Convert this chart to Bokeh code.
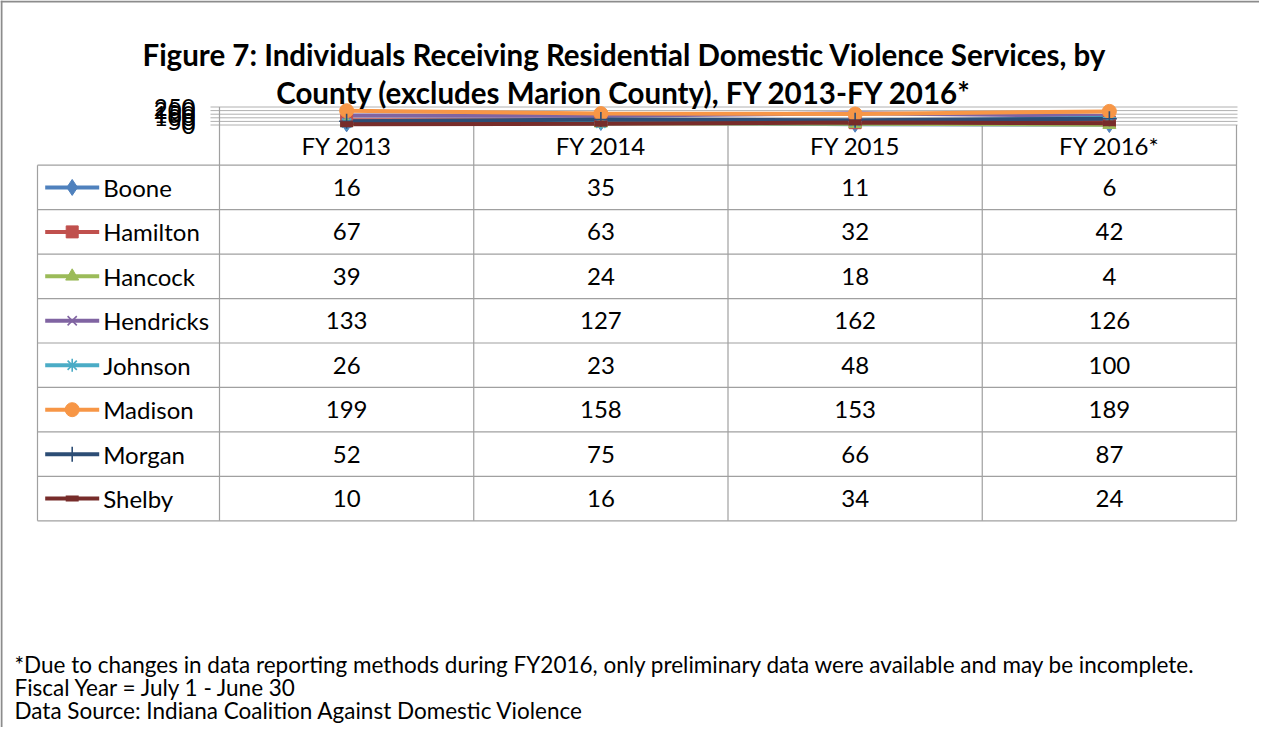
from bokeh.plotting import figure
from bokeh.models import Range1d
from bokeh.embed import file_html
from bokeh.resources import INLINE
from bokeh.core.properties import value

# ---------------- data ----------------
categories = ["FY 2013", "FY 2014", "FY 2015", "FY 2016*"]
counties = ["Boone", "Hamilton", "Hancock", "Hendricks", "Johnson", "Madison", "Morgan", "Shelby"]
boone = [16, 35, 11, 6]
hamilton = [67, 63, 32, 42]
hancock = [39, 24, 18, 4]
hendricks = [133, 127, 162, 126]
johnson = [26, 23, 48, 100]
madison = [199, 158, 153, 189]
morgan = [52, 75, 66, 87]
shelby = [10, 16, 34, 24]
y_ticks = [0, 50, 100, 150, 200, 250]
title_lines = [
    "Figure 7: Individuals Receiving Residential Domestic Violence Services, by",
    "County (excludes Marion County), FY 2013-FY 2016*",
]
notes = [
    "*Due to changes in data reporting methods during FY2016, only preliminary data were available and may be incomplete.",
    "Fiscal Year = July 1 - June 30",
    "Data Source: Indiana Coalition Against Domestic Violence",
]

series = [boone, hamilton, hancock, hendricks, johnson, madison, morgan, shelby]

# ---------------- style ----------------
colors = ["#4F81BD", "#C0504D", "#9BBB59", "#8064A2", "#4BACC6", "#F79646", "#2C4D75", "#772C2A"]
markers = ["diamond", "square", "triangle", "x", "asterisk", "circle", "cross", "dash"]
msizes = [16, 12, 13, 13, 13, 14, 15, 13]
mfill = [True, True, True, False, False, True, False, False]
FONT = "Lato"

# ---------------- layout (page pixel coordinates) ----------------
W, H, OFF = 1259, 727, 8
COL_L, COL_W = 227.0, 254.25
TABLE_L = 45.0
TABLE_R = COL_L + 4 * COL_W
PLOT_TOP, PLOT_BOT = 114.5, 132.5
ROW0, ROW_H = 172.7, 44.45
VMAX = 250.0


def cx(px):
    return (px - (COL_L + COL_W / 2)) / COL_W


def vy(px):
    return (PLOT_BOT - px) * VMAX / (PLOT_BOT - PLOT_TOP)


def ry(px):
    return (px - (ROW0 + ROW_H / 2)) / ROW_H


p = figure(width=W, height=H,
           x_range=Range1d(OFF, OFF + W), y_range=Range1d(OFF + H, OFF),
           x_axis_type=None, y_axis_type=None,
           toolbar_location=None, output_backend="svg",
           min_border=0, outline_line_color=None,
           background_fill_color="white", border_fill_color="white")
p.extra_x_ranges = {"cat": Range1d(cx(OFF), cx(OFF + W))}
p.extra_y_ranges = {"vals": Range1d(vy(OFF + H), vy(OFF)),
                    "rows": Range1d(ry(OFF + H), ry(OFF))}

# chart border (left and top visible)
p.segment(x0=[9, 8], y0=[8, 9], x1=[9, OFF + W], y1=[OFF + H, 9],
          line_color="#8c8c8c", line_width=2)

# horizontal gridlines / tick marks
p.segment(x0=[218] * len(y_ticks), x1=[TABLE_R + 1] * len(y_ticks),
          y0=y_ticks, y1=y_ticks, y_range_name="vals",
          line_color="#b0b0b0", line_width=1)

# y tick labels
p.text(x=[203] * len(y_ticks), y=y_ticks, text=[str(t) for t in y_ticks],
       y_range_name="vals", text_font=value(FONT), text_font_size="24px",
       text_align="right", text_baseline="middle", text_color="black")

# data table lines
n = len(counties)
table_bottom = ROW0 + n * ROW_H
hy = [ROW0 + j * ROW_H for j in range(n + 1)]
p.segment(x0=[TABLE_L] * len(hy), x1=[TABLE_R] * len(hy), y0=hy, y1=hy,
          line_color="#a0a0a0", line_width=1.2)
vx = [COL_L + j * COL_W for j in range(1, 5)]
p.segment(x0=vx, x1=vx, y0=[PLOT_BOT] * len(vx), y1=[table_bottom] * len(vx),
          line_color="#a0a0a0", line_width=1.2)
p.segment(x0=[COL_L, TABLE_L], x1=[COL_L, TABLE_L], y0=[PLOT_TOP, ROW0],
          y1=[table_bottom, table_bottom], line_color="#a0a0a0", line_width=1.2)

# series lines and markers
xs = list(range(len(categories)))
for vals, c in zip(series, colors):
    p.line(x=xs, y=vals, x_range_name="cat", y_range_name="vals",
           line_color=c, line_width=4)
for vals, c, m, s, f in zip(series, colors, markers, msizes, mfill):
    p.scatter(x=xs, y=vals, x_range_name="cat", y_range_name="vals",
              marker=m, size=s, line_color=c, fill_color=c if f else None,
              line_width=6 if m == "dash" else (1 if f else 1.6))

# header labels (category axis)
p.text(x=xs, y=[ry((PLOT_BOT + ROW0) / 2)] * len(xs), text=categories,
       x_range_name="cat", y_range_name="rows",
       text_font=value(FONT), text_font_size="24px",
       text_align="center", text_baseline="middle", text_color="black")

# legend keys and names
rows = list(range(n))
for i, (c, m, s, f) in enumerate(zip(colors, markers, msizes, mfill)):
    p.segment(x0=[52.7], x1=[106.7], y0=[i], y1=[i], y_range_name="rows",
              line_color=c, line_width=4)
    p.scatter(x=[79.7], y=[i], y_range_name="rows", marker=m, size=s,
              line_color=c, fill_color=c if f else None,
              line_width=6 if m == "dash" else (1 if f else 1.6))
p.text(x=[110.7] * n, y=rows, text=counties, y_range_name="rows",
       text_font=value(FONT), text_font_size="24px",
       text_align="left", text_baseline="middle", text_color="black")

# table values
tx, ty, tt = [], [], []
for i, vals in enumerate(series):
    for j, v in enumerate(vals):
        tx.append(j)
        ty.append(i)
        tt.append(str(v))
p.text(x=tx, y=ty, text=tt, x_range_name="cat", y_range_name="rows",
       text_font=value(FONT), text_font_size="24px",
       text_align="center", text_baseline="middle", text_color="black")

# title
p.text(x=[632, 632], y=[62, 100], text=title_lines,
       text_font=value(FONT), text_font_size="29.5px", text_font_style="bold",
       text_align="center", text_baseline="alphabetic", text_color="black")

# footnotes
p.text(x=[22, 22, 22], y=[672, 695, 718], text=notes,
       text_font=value(FONT), text_font_size="22.5px",
       text_align="left", text_baseline="alphabetic", text_color="black")

open("out.html", "w").write(file_html(p, INLINE))
